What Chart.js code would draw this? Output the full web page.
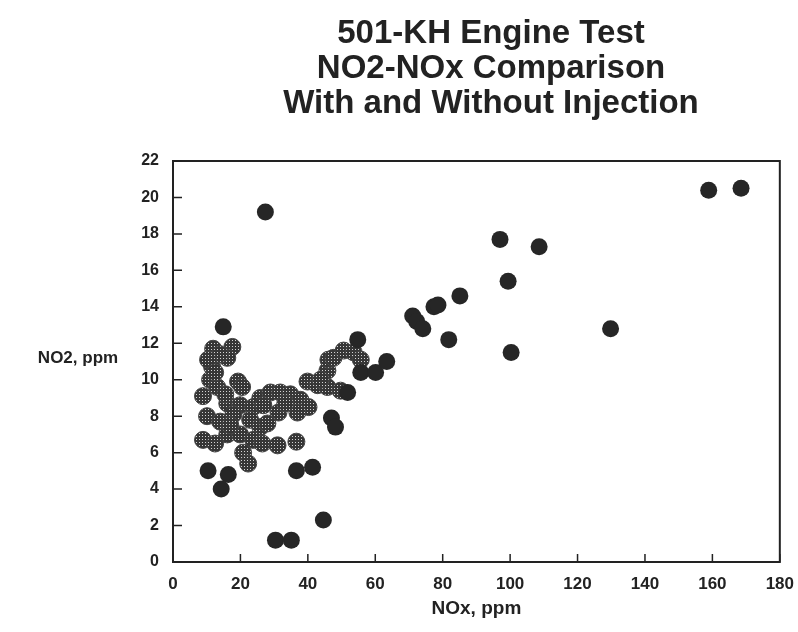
<!DOCTYPE html>
<html>
<head>
<meta charset="utf-8">
<script src="https://cdn.jsdelivr.net/npm/chart.js@4.4.1/dist/chart.umd.min.js"></script>
<style>
  body { margin: 0; background: #fff; }
  #wrap { width: 798px; height: 632px; }
</style>
</head>
<body>
<div id="wrap"><canvas id="myChart" width="798" height="632"></canvas></div>
<script>
// NOx / NO2 readings, ppm
var titleLines = ["501-KH Engine Test", "NO2-NOx Comparison", "With and Without Injection"];
var xTicks = [0, 20, 40, 60, 80, 100, 120, 140, 160, 180];
var yTicks = [0, 2, 4, 6, 8, 10, 12, 14, 16, 18, 20, 22];

// solid black markers
var darkNOx = [27.4, 14.9, 10.4, 16.4, 14.3, 36.6, 41.4, 44.6, 30.4, 35.1,
  47.0, 48.2, 54.8, 55.7, 60.1, 63.4, 51.8, 71.1, 72.3, 74.1,
  77.4, 78.6, 85.1, 81.8, 97.0, 108.6, 99.4, 100.3, 129.8, 158.9, 168.5];
var darkNO2 = [19.2, 12.9, 5.0, 4.8, 4.0, 5.0, 5.2, 2.3, 1.2, 1.2,
  7.9, 7.4, 12.2, 10.4, 10.4, 11.0, 9.3, 13.5, 13.2, 12.8,
  14.0, 14.1, 14.6, 12.2, 17.7, 17.3, 15.4, 11.5, 12.8, 20.4, 20.5];

// shaded markers
var grayNOx = [11.9, 17.6, 16.1, 11.6, 11.0, 13.1, 8.9, 19.3, 20.5, 16.1,
  19.9, 23.8, 25.9, 28.9, 31.8, 34.8, 37.8, 40.2, 36.9, 31.3,
  26.8, 10.1, 14.0, 17.9, 22.9, 25.9, 28.0, 16.1, 19.9, 23.8,
  8.9, 12.5, 26.5, 31.0, 20.8, 22.3, 36.6, 39.9, 42.9, 45.8,
  49.7, 45.8, 46.1, 47.6, 50.6, 53.6, 55.7, 43.8, 14.0, 10.4,
  12.5, 15.5, 17.0, 33.3];
var grayNO2 = [11.7, 11.8, 11.2, 10.7, 10.0, 9.6, 9.1, 9.9, 9.6, 8.7,
  8.6, 8.5, 9.0, 9.3, 9.3, 9.2, 8.9, 8.5, 8.2, 8.2,
  8.6, 8.0, 7.7, 8.1, 7.8, 7.4, 7.6, 7.0, 7.0, 6.7,
  6.7, 6.5, 6.5, 6.4, 6.0, 5.4, 6.6, 9.9, 9.7, 9.6,
  9.4, 10.5, 11.1, 11.2, 11.6, 11.5, 11.1, 10.0, 11.4, 11.1,
  10.4, 9.2, 7.5, 8.7];

var ink = "#222";
var fontFamily = "'Liberation Sans', Arial, sans-serif";

function toPoints(xs, ys) {
  return xs.map(function (v, i) { return { x: v, y: ys[i] }; });
}

// halftone fill for the shaded markers
function halftone() {
  var c = document.createElement("canvas");
  c.width = 3; c.height = 3;
  var g = c.getContext("2d");
  g.fillStyle = "#363636";
  g.fillRect(0, 0, 3, 3);
  g.fillStyle = "#d4d4d4";
  g.fillRect(1, 1, 1, 1);
  return g.createPattern(c, "repeat");
}

// box frame, inward ticks, heading and the horizontal y caption
var decorations = {
  id: "decorations",
  afterDraw: function (chart) {
    var ctx = chart.ctx, a = chart.chartArea;
    var xs = chart.scales.x, ys = chart.scales.y;
    ctx.save();
    ctx.strokeStyle = ink;
    ctx.lineWidth = 2;
    ctx.strokeRect(a.left, a.top, a.right - a.left, a.bottom - a.top);
    ctx.lineWidth = 1.5;
    ctx.beginPath();
    xTicks.forEach(function (v) {
      var px = xs.getPixelForValue(v);
      ctx.moveTo(px, a.bottom);
      ctx.lineTo(px, a.bottom - 8);
    });
    yTicks.forEach(function (v) {
      var py = ys.getPixelForValue(v);
      ctx.moveTo(a.left, py);
      ctx.lineTo(a.left + 9, py);
    });
    ctx.stroke();

    ctx.fillStyle = ink;
    ctx.textAlign = "center";
    ctx.textBaseline = "middle";
    ctx.font = "bold 33px " + fontFamily;
    titleLines.forEach(function (t, i) {
      ctx.fillText(t, 491, 34 + i * 35);
    });
    ctx.font = "bold 17px " + fontFamily;
    ctx.fillText("NO2, ppm", 78, 358);
    ctx.restore();
  }
};

new Chart("myChart", {
  type: "scatter",
  data: {
    datasets: [{
      label: "Without injection",
      data: toPoints(darkNOx, darkNO2),
      backgroundColor: "#262626",
      borderColor: "#262626",
      borderWidth: 0,
      pointRadius: 8.5
    }, {
      label: "With injection",
      data: toPoints(grayNOx, grayNO2),
      backgroundColor: halftone(),
      borderColor: "#444",
      borderWidth: 1,
      pointRadius: 8.5
    }]
  },
  options: {
    responsive: false,
    animation: false,
    layout: { padding: { top: 161, right: 14, bottom: 0, left: 0 } },
    plugins: {
      legend: { display: false },
      tooltip: { enabled: false }
    },
    scales: {
      x: {
        min: 0, max: 180,
        afterFit: function (s) { s.height = 70; },
        afterBuildTicks: function (s) { s.ticks = xTicks.map(function (v) { return { value: v }; }); },
        grid: { display: false },
        border: { display: false },
        ticks: { color: ink, padding: 4, font: { family: fontFamily, size: 17, weight: "bold" } },
        title: {
          display: true, text: "NOx, ppm", color: ink,
          font: { family: fontFamily, size: 19, weight: "bold" },
          padding: { top: 0, bottom: 12 }
        }
      },
      y: {
        min: 0, max: 22,
        afterFit: function (s) { s.width = 173; },
        afterBuildTicks: function (s) { s.ticks = yTicks.map(function (v) { return { value: v }; }); },
        grid: { display: false },
        border: { display: false },
        ticks: { color: ink, padding: 6, font: { family: fontFamily, size: 16, weight: "bold" } }
      }
    }
  },
  plugins: [decorations]
});
</script>
</body>
</html>
